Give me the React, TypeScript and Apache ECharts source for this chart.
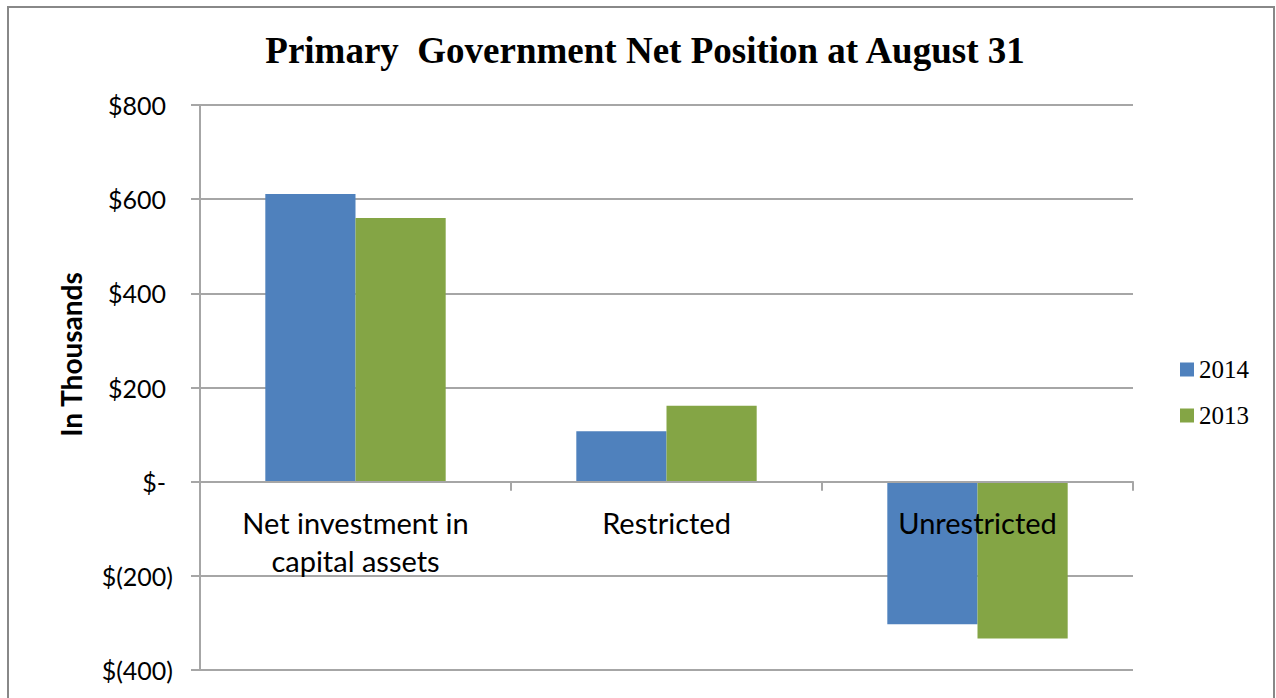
import React, { useEffect, useRef } from "react";
import * as echarts from "echarts";

const categories = ["Net investment in\ncapital assets", "Restricted", "Unrestricted"];
const values2014 = [611, 107, -303];
const values2013 = [560, 161, -333];
const seriesNames = ["2014", "2013"];
const yTicks = { min: -400, max: 800, interval: 200 };

export default function App() {
  const ref = useRef<HTMLDivElement>(null);
  useEffect(() => {
    document.body.style.margin = "0";
    const chart = echarts.init(ref.current!, null, { renderer: "svg" });
    const label = "Lato, 'Open Sans', sans-serif";
    const gridTop = 105;
    const gridBottom = 28;
    const plotH = 698 - gridTop - gridBottom;
    const zeroOffset = -(plotH * (0 - yTicks.min)) / (yTicks.max - yTicks.min);
    chart.setOption({
      animation: false,
      backgroundColor: "#ffffff",
      title: {
        text: "Primary  Government Net Position at August 31",
        left: 640,
        textAlign: "center",
        top: 27,
        textStyle: { fontFamily: "'Liberation Serif', serif", fontWeight: "bold", fontSize: 37, color: "#000" },
      },
      legend: {
        orient: "vertical",
        left: 1175,
        top: 352,
        itemWidth: 14,
        itemHeight: 14,
        itemGap: 21,
        icon: "rect",
        textStyle: { fontFamily: "'Liberation Serif', serif", fontSize: 25, color: "#000" },
        data: seriesNames,
      },
      graphic: [
        {
          type: "rect",
          shape: { x: 8, y: 7, width: 1266, height: 700 },
          style: { fill: "none", stroke: "#888888", lineWidth: 2 },
          silent: true,
        },
      ],
      grid: { left: 200, right: 143, top: gridTop, bottom: gridBottom, containLabel: false, outerBoundsMode: "none" },
      xAxis: {
        type: "category",
        data: categories,
        z: 10,
        offset: zeroOffset,
        axisLine: { onZero: false, lineStyle: { color: "#a6a6a6", width: 2 } },
        axisTick: { show: true, length: 9, lineStyle: { color: "#a6a6a6", width: 2 } },
        axisLabel: { color: "#000", fontSize: 29, fontFamily: label, margin: 22, lineHeight: 38 },
      },
      yAxis: {
        type: "value",
        min: yTicks.min,
        max: yTicks.max,
        interval: yTicks.interval,
        name: "In Thousands",
        nameLocation: "middle",
        nameGap: 115,
        nameRotate: 90,
        nameTextStyle: { fontFamily: label, fontWeight: "bold", fontSize: 28, color: "#000", padding: [0, 0, 0, 66] },
        axisLine: { show: true, lineStyle: { color: "#a6a6a6", width: 2 } },
        axisTick: { show: true, length: 9, lineStyle: { color: "#a6a6a6", width: 2 } },
        splitLine: { lineStyle: { color: "#a6a6a6", width: 2 } },
        axisLabel: {
          color: "#000",
          fontSize: 25,
          fontFamily: label,
          margin: 27,
          formatter: (v: number) => (v === 0 ? "{p|$-}" : v < 0 ? `$(${Math.abs(v)})` : `{p|$${v}}`),
          rich: {
            p: { color: "#000", fontSize: 25, fontFamily: label, padding: [0, 7, 0, 0] },
          },
        },
      },
      series: [
        {
          name: seriesNames[0],
          type: "bar",
          data: values2014,
          barGap: "0%",
          barCategoryGap: "42%",
          itemStyle: { color: "#4f81bd" },
        },
        {
          name: seriesNames[1],
          type: "bar",
          data: values2013,
          barGap: "0%",
          barCategoryGap: "42%",
          itemStyle: { color: "#84a545" },
        },
      ],
    });
    return () => chart.dispose();
  }, []);
  return <div ref={ref} style={{ width: 1276, height: 698 }} />;
}
